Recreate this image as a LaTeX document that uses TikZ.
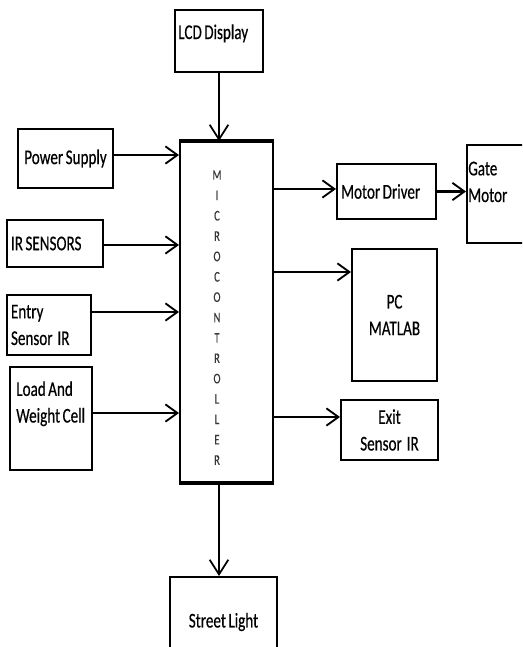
\documentclass[tikz,border=0pt]{standalone}
\usepackage{fontspec}
\setmainfont[FakeStretch=0.72, WordSpace=0.72, FakeBold=0.4]{Carlito}
\usepackage{tikz}
\usetikzlibrary{arrows.meta,positioning,calc}
\tikzset{
  blk/.style={rectangle, draw=black, line width=1.5pt, inner sep=3pt, align=center, font=\fontsize{15.75}{20}\selectfont},
  lbl/.style={anchor=base west, inner sep=0pt, align=flush left, font=\fontsize{15.75}{20}\selectfont},
  letter/.style={inner sep=0pt, text=black!78, font=\fontsize{11}{12}\selectfont},
  arrow/.style={-{Straight Barb[length=9pt, width=13pt, line width=1.4pt]}, line width=2.1pt},
  thinarrow/.style={-{Straight Barb[length=11pt, width=14pt, line width=1.3pt]}, line width=1.2pt}
}
\begin{document}
\begin{tikzpicture}[x=0.75pt, y=-0.75pt]
  \path[use as bounding box, fill=white] (0,0) rectangle (522,647);
  \clip (0,0) rectangle (522,647);
  % boxes
  \node[blk, minimum width=69.75pt, minimum height=255pt] (mc) at (226.5,312) {};
  \node[blk, minimum width=66pt, minimum height=46.5pt] (lcd) at (219,41) {};
  \node[blk, minimum width=71.25pt, minimum height=44.25pt] (power) at (65.5,158.5) {Power Supply};
  \node[blk, minimum width=72pt, minimum height=35.25pt, text width=66pt, align=flush left] (irs) at (55,243.5) {IR SENSORS};
  \node[blk, minimum width=63pt, minimum height=45pt, text width=57pt, align=flush left] (entry) at (49,325) {Entry\\Sensor~ IR};
  \node[blk, minimum width=61.5pt, minimum height=77.25pt] (load) at (51,418.5) {};
  \node[blk, minimum width=74.25pt, minimum height=41.25pt, text width=68pt, align=flush left] (driver) at (386.5,191.5) {Motor Driver};
  \node[blk, minimum width=69.75pt, minimum height=73.5pt] (gate) at (513.5,194) {};
  \node[blk, minimum width=63.75pt, minimum height=99pt] (pc) at (394.5,315) {PC\\MATLAB};
  \node[blk, minimum width=72.75pt, minimum height=45pt] (exit) at (389.5,430) {Exit\\Sensor~ IR};
  \node[blk, minimum width=80.25pt, minimum height=67.5pt] (street) at (223.5,622) {Street Light};
  % texts set high in their boxes (base = last line)
  \node[lbl] (lcdtxt) at ([shift={(3pt,-22.5pt)}]lcd.north west) {LCD Display};
  \node[lbl] (loadtxt) at ([shift={(5.25pt,-42.4pt)}]load.north west) {Load And\\Weight Cell};
  \node[lbl] (gatetxt) at ([shift={(1.5pt,-43.5pt)}]gate.north west) {Gate\\Motor};
  % heavy top and bottom of the controller
  \draw[line width=2.8pt] (mc.north west) -- (mc.north east);
  \draw[line width=2.8pt] (mc.south west) -- (mc.south east);
  \foreach \ch [count=\i from 0] in {M,I,C,R,O,C,O,N,T,R,O,L,L,E,R}
    \node[letter] (mcl\i) at (217,{175+\i*20.36}) {\ch};
  % connections
  \draw[thinarrow] (lcd) -- (lcd |- mc.north);
  \draw[arrow] ([yshift=2.6pt]power.east) -- ([yshift=2.6pt]power.east -| mc.west);
  \draw[arrow] ([yshift=-1.1pt]irs.east) -- ([yshift=-1.1pt]irs.east -| mc.west);
  \draw[arrow] ([yshift=9.75pt]entry.east) -- ([yshift=9.75pt]entry.east -| mc.west);
  \draw[arrow] ([yshift=4.1pt]load.east) -- ([yshift=4.1pt]load.east -| mc.west);
  \draw[arrow] ([yshift=1.9pt]driver.west -| mc.east) -- ([yshift=1.9pt]driver.west);
  \draw[arrow] (driver.east) -- (driver.east -| gate.west);
  \draw[arrow] ([yshift=32.25pt]pc.west -| mc.east) -- ([yshift=32.25pt]pc.west);
  \draw[arrow] ([yshift=9.75pt]exit.west -| mc.east) -- ([yshift=9.75pt]exit.west);
  \draw[thinarrow] (lcd |- mc.south) -- (lcd |- street.north);
\end{tikzpicture}
\end{document}
